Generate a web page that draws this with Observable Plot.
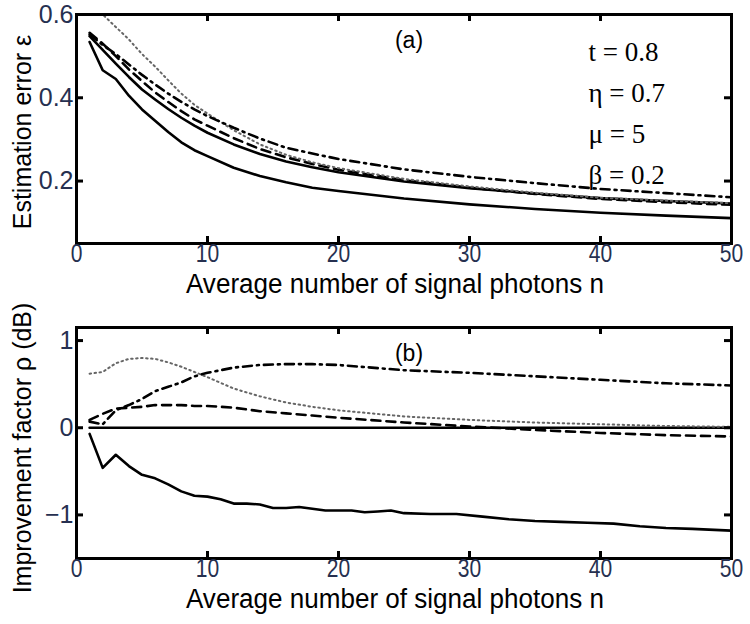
<!DOCTYPE html>
<html><head><meta charset="utf-8">
<script src="https://cdn.jsdelivr.net/npm/d3@7"></script>
<script src="https://cdn.jsdelivr.net/npm/@observablehq/plot@0.6"></script>
<style>
body{margin:0;background:#fff;}
#chart{width:750px;height:624px;}
#chart svg{display:block;}
#chart g[aria-label$="tick label"] text{fill:#263050;}
</style></head><body><div id="chart"></div>
<script>
// ---- data ----
const nA = [1,2,3,4,5,6,7,8,9,10,12,14,16,18,20,25,30,35,40,45,50];
const errRef     = [0.548,0.515,0.482,0.450,0.420,0.396,0.373,0.352,0.333,0.316,0.288,0.265,0.247,0.233,0.221,0.199,0.183,0.170,0.159,0.152,0.146];
const errLow     = [0.534,0.466,0.445,0.405,0.372,0.345,0.318,0.293,0.274,0.260,0.232,0.212,0.197,0.184,0.176,0.158,0.144,0.133,0.124,0.117,0.111];
const errDash    = [0.556,0.530,0.500,0.468,0.440,0.413,0.390,0.368,0.348,0.333,0.303,0.277,0.257,0.241,0.227,0.202,0.184,0.169,0.157,0.149,0.143];
const errDot     = [0.630,0.600,0.570,0.540,0.505,0.475,0.442,0.410,0.383,0.362,0.322,0.288,0.263,0.245,0.231,0.205,0.187,0.172,0.160,0.153,0.147];
const errDashDot = [0.552,0.527,0.505,0.480,0.455,0.432,0.410,0.390,0.372,0.356,0.328,0.302,0.280,0.266,0.253,0.228,0.210,0.195,0.181,0.171,0.161];

const nRef = [1,50];
const rhoRef = [0,0];
const nLow = [1,2,3,4,5,6,7,8,9,10,11,12,13,14,15,16,17,18,19,20,21,22,23,24,25,27,29,31,33,35,37,39,41,43,45,47,50];
const rhoLow = [-0.07,-0.46,-0.31,-0.44,-0.54,-0.58,-0.65,-0.73,-0.78,-0.79,-0.82,-0.87,-0.87,-0.88,-0.92,-0.92,-0.91,-0.93,-0.95,-0.95,-0.95,-0.97,-0.96,-0.95,-0.98,-0.99,-0.99,-1.02,-1.05,-1.07,-1.08,-1.09,-1.10,-1.13,-1.15,-1.16,-1.18];
const rhoDash    = [0.09,0.16,0.22,0.23,0.24,0.26,0.26,0.26,0.25,0.25,0.23,0.19,0.165,0.14,0.115,0.06,0.015,-0.025,-0.06,-0.085,-0.10];
const rhoDot     = [0.62,0.64,0.74,0.79,0.80,0.79,0.75,0.70,0.64,0.58,0.45,0.36,0.29,0.24,0.20,0.13,0.09,0.06,0.04,0.02,0.01];
const rhoDashDot = [0.07,0.04,0.20,0.26,0.33,0.42,0.47,0.52,0.59,0.63,0.69,0.72,0.73,0.73,0.72,0.66,0.63,0.59,0.55,0.51,0.485];

const xTicks = [0,10,20,30,40,50];
const yTicksA = [0.2,0.4,0.6];
const yTicksB = [-1,0,1];
const paramLines = ["t = 0.8","η = 0.7","μ = 5","β = 0.2"];
const tagA = "(a)", tagB = "(b)";
const xLabel = "Average number of signal photons n";
const yLabelA = "Estimation error ε";
const yLabelB = "Improvement factor ρ (dB)";

// ---- styles ----
const S = {
  solid:   {stroke:"black", strokeWidth:2.6},
  dash:    {stroke:"black", strokeWidth:2.6, strokeDasharray:"9,6"},
  dot:     {stroke:"#666",  strokeWidth:2,   strokeDasharray:"1.5,3.5"},
  dashdot: {stroke:"black", strokeWidth:2.6, strokeDasharray:"9,5,2,5"}
};
const zip = (xs, ys) => xs.map((n,i)=>({n, v: ys[i]}));

const SANS = "'Liberation Sans', Arial, sans-serif";
const W = 750, ML = 76, MR = 19, TICK = 7;

function panel({height, mt, mb, yDomain, yTicks, yFmt, series, yLabel, yLabelDy, tag, extra}) {
  const ih = height - mt - mb, iw = W - ML - MR;
  const innerX = xTicks.filter(t => t > 0 && t < 50);
  return Plot.plot({
    width: W, height, marginTop: mt, marginBottom: mb, marginLeft: ML, marginRight: MR,
    style: {fontFamily: SANS, background: "white", color: "black"},
    x: {domain: [0,50]},
    y: {domain: yDomain},
    marks: [
      ...series.map(s => Plot.line(s.data, {x:"n", y:"v", ...s.style, clip:true})),
      Plot.ruleX(innerX, {x: d=>d, insetTop: ih - TICK, stroke:"black", strokeWidth:3}),
      Plot.ruleX(innerX, {x: d=>d, insetBottom: ih - TICK, stroke:"black", strokeWidth:3}),
      Plot.ruleY(yTicks, {y: d=>d, insetRight: iw - TICK, stroke:"black", strokeWidth:3}),
      Plot.ruleY(yTicks, {y: d=>d, insetLeft: iw - TICK, stroke:"black", strokeWidth:3}),
      Plot.frame({stroke:"black", strokeWidth:3}),
      Plot.axisX(xTicks, {tickSize:0, tickPadding:1, fontSize:25, label:null}),
      Plot.axisY(yTicks, {tickSize:0, tickPadding:3, fontSize:25, tickFormat:yFmt, label:null}),
      Plot.text([xLabel], {frameAnchor:"bottom", dx:-9, dy:30, lineAnchor:"top", textAnchor:"middle", fontSize:27}),
      Plot.text([yLabel], {frameAnchor:"left", rotate:-90, dx:-54, dy:yLabelDy, textAnchor:"middle", lineAnchor:"middle", fontSize:25}),
      Plot.text([tag], {frameAnchor:"top", dx:5, dy:17, lineAnchor:"top", textAnchor:"middle", fontSize:23}),
      ...(extra || [])
    ]
  });
}

const chart = document.getElementById("chart");
chart.append(panel({
  height: 300, mt: 14, mb: 57, yDomain: [0.05, 0.6], yTicks: yTicksA, yFmt: d3.format(".1f"),
  yLabel: yLabelA, yLabelDy: 3, tag: tagA,
  series: [
    {data: zip(nA, errRef), style: S.solid},
    {data: zip(nA, errLow), style: S.solid},
    {data: zip(nA, errDash), style: S.dash},
    {data: zip(nA, errDot), style: S.dot},
    {data: zip(nA, errDashDot), style: S.dashdot}
  ],
  extra: [
    Plot.text([paramLines.join("\n")], {frameAnchor:"top-right", textAnchor:"start", lineAnchor:"top",
      dx:-143, dy:17, fontSize:27, lineHeight:1.52, fontFamily:"'Liberation Serif', 'Times New Roman', serif"})
  ]
}));
chart.append(panel({
  height: 324, mt: 27, mb: 66, yDomain: [-1.5, 1.15], yTicks: yTicksB, yFmt: d3.format("d"),
  yLabel: yLabelB, yLabelDy: 5, tag: tagB,
  series: [
    {data: zip(nRef, rhoRef), style: S.solid},
    {data: zip(nLow, rhoLow), style: S.solid},
    {data: zip(nA, rhoDash), style: S.dash},
    {data: zip(nA, rhoDot), style: S.dot},
    {data: zip(nA, rhoDashDot), style: S.dashdot}
  ]
}));

// condense the x-axis texts (the reference uses a narrow face)
chart.querySelectorAll('g[aria-label="x-axis tick label"] text').forEach(t => {
  t.setAttribute("textLength", (t.getComputedTextLength() * 0.84).toFixed(1));
  t.setAttribute("lengthAdjust", "spacingAndGlyphs");
});
chart.querySelectorAll('svg text').forEach(t => {
  if (t.textContent === xLabel) {
    t.setAttribute("textLength", (t.getComputedTextLength() * 0.965).toFixed(1));
    t.setAttribute("lengthAdjust", "spacingAndGlyphs");
  }
});
</script></body></html>
